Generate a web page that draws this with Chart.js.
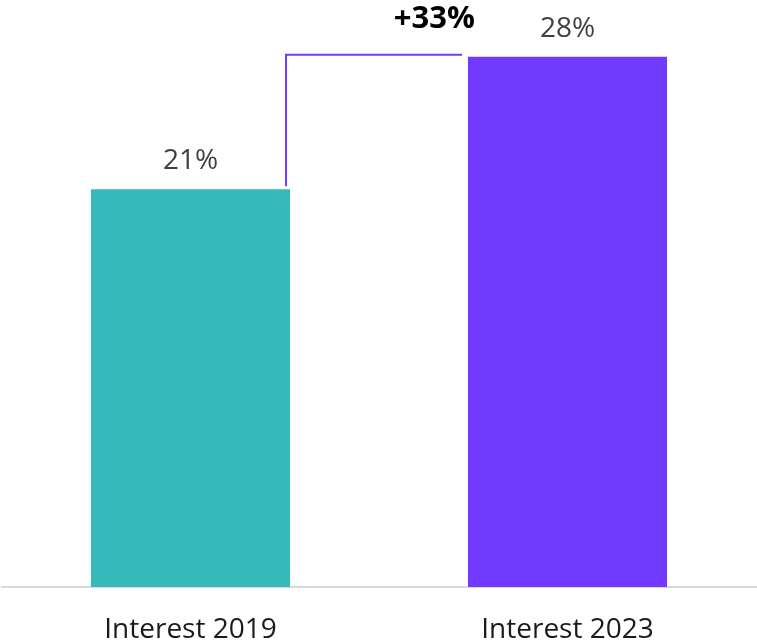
<!DOCTYPE html>
<html>
<head>
<meta charset="utf-8">
<script src="https://cdn.jsdelivr.net/npm/chart.js@4/dist/chart.umd.min.js"></script>
<style>
  html, body { margin: 0; padding: 0; background: #ffffff; }
  canvas { display: block; }
</style>
</head>
<body>
<canvas id="c" width="757" height="644"></canvas>
<script>
const categories = ['Interest 2019', 'Interest 2023'];
const values = [21, 28];
const valueLabels = ['21%', '28%'];
const changeLabel = '+33%';
const barColors = ['#35B9B9', '#7239FE'];

const annotate = {
  id: 'annotate',
  afterDatasetsDraw(chart) {
    const ctx = chart.ctx;
    const meta = chart.getDatasetMeta(0);
    const b1 = meta.data[0], b2 = meta.data[1];
    ctx.save();
    // value labels
    ctx.font = '400 28px "Open Sans"';
    ctx.fillStyle = '#404040';
    ctx.textAlign = 'center';
    ctx.textBaseline = 'alphabetic';
    meta.data.forEach((bar, i) => {
      ctx.fillText(valueLabels[i], bar.x, bar.y - 20);
    });
    // connector
    const w1 = b1.width, w2 = b2.width;
    const xa = b1.x + w1 / 2 - 4;
    const xb = b2.x - w2 / 2 - 6;
    const ya = b1.y - 3;
    const yb = b2.y - 2;
    ctx.strokeStyle = '#7239FE';
    ctx.lineWidth = 2;
    ctx.beginPath();
    ctx.moveTo(xa, ya);
    ctx.lineTo(xa, yb);
    ctx.lineTo(xb, yb);
    ctx.stroke();
    // change label
    ctx.font = '700 31px "Open Sans"';
    ctx.fillStyle = '#000000';
    ctx.textAlign = 'right';
    ctx.fillText(changeLabel, b2.x - w2 / 2 + 7, b2.y - 29);
    ctx.restore();
  }
};

new Chart(document.getElementById('c'), {
  type: 'bar',
  data: {
    labels: categories,
    datasets: [{
      data: values,
      backgroundColor: barColors,
      borderWidth: 0,
      barPercentage: 0.528,
      categoryPercentage: 1.0
    }]
  },
  options: {
    responsive: false,
    animation: false,
    layout: { padding: { top: 0, left: 2, right: 1, bottom: 0 } },
    plugins: { legend: { display: false }, tooltip: { enabled: false } },
    scales: {
      y: { display: false, min: 0, max: 31 },
      x: {
        grid: { display: false, drawTicks: false },
        border: { display: true, color: '#D9D9D9', width: 2 },
        afterFit(scale) { scale.height = 57; },
        ticks: {
          color: '#1A1A1A',
          font: { family: '"Open Sans"', size: 28, weight: '400' },
          padding: 26
        }
      }
    }
  },
  plugins: [annotate]
});
</script>
</body>
</html>
